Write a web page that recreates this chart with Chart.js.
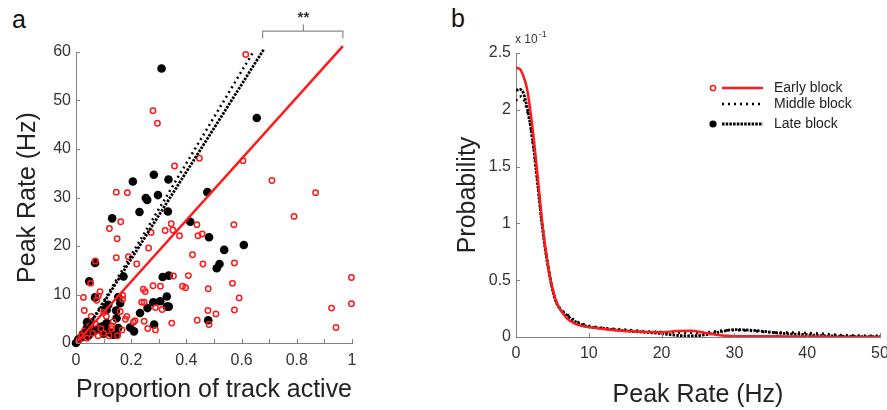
<!DOCTYPE html>
<html>
<head>
<meta charset="utf-8">
<script src="https://cdn.jsdelivr.net/npm/chart.js@4/dist/chart.umd.min.js"></script>
<style>
  html, body { margin: 0; padding: 0; background: #fff; overflow: hidden; }
  body { width: 887px; height: 410px; position: relative; font-family: "Liberation Sans", Arial, sans-serif; }
  .panel { position: absolute; top: 0; height: 410px; }
  #leftBox { left: 0; width: 380px; }
  #rightBox { left: 440px; width: 470px; }
  .letter { position: absolute; font-size: 25px; line-height: 25px; color: #111; }
</style>
</head>
<body>
<div class="letter" style="left:12px; top:7px;">a</div>
<div class="letter" style="left:451px; top:6px;">b</div>
<div class="panel" id="leftBox"><canvas id="scatterChart"></canvas></div>
<div class="panel" id="rightBox"><canvas id="densityChart"></canvas></div>

<script>
// -----------------------------
// DATA: panel a (scatter)
// -----------------------------
const earlyProportion = [
  0.615, 0.279, 0.295, 0.447, 0.605, 0.357, 0.71, 0.146, 0.186, 0.868,
  0.79, 0.162, 0.121, 0.272, 0.323, 0.345, 0.351, 0.375, 0.438, 0.442,
  0.457, 0.572, 0.149, 0.263, 0.146, 0.19, 0.07, 0.22, 0.422, 0.46,
  0.574, 0.353, 0.407, 0.998, 0.567, 0.053, 0.279, 0.306, 0.386, 0.397,
  0.479, 0.244, 0.251, 0.087, 0.081, 0.027, 0.591, 0.169, 0.169, 0.998,
  0.926, 0.03, 0.238, 0.247, 0.288, 0.312, 0.478, 0.574, 0.507, 0.184,
  0.179, 0.247, 0.347, 0.439, 0.482, 0.26, 0.288, 0.942, 0.208, 0.135,
  0.167, 0.01, 0.02, 0.03, 0.04, 0.05, 0.06, 0.07, 0.08, 0.09,
  0.1, 0.11, 0.12, 0.13, 0.075, 0.1, 0.055, 0.15, 0.16, 0.129, 0.214
];
const earlyPeak = [
  59.5, 47.9, 45.3, 38.1, 37.6, 36.5, 33.5, 31.1, 31, 31,
  26.1, 25, 23.6, 22.8, 23.2, 24.6, 23.3, 22.1, 24.4, 22.1,
  22.5, 24.4, 21.5, 19.6, 17.6, 17.8, 16.9, 16.3, 18.2, 16.3,
  16.5, 13.8, 13.9, 13.5, 12.3, 12.3, 11.8, 11.7, 11.7, 11.4,
  11.2, 11.1, 10.6, 10.6, 9.7, 9.4, 9.3, 9.8, 9, 8.1,
  7.2, 6.7, 8.4, 8.4, 7.3, 6.9, 6.7, 6.8, 6, 5.5,
  4.9, 4.5, 4.1, 4.7, 3.8, 3, 2.7, 3.2, 4.3, 4.4,
  2.7, 0.5, 1.5, 2.5, 1, 3.5, 2, 4, 1.5, 3,
  2, 5.5, 1.5, 3.5, 8.8, 6.3, 5.5, 1.5, 6.5, 2.9, 4.6
];

const lateProportion = [
  0, 0.008, 0.02, 0.033, 0.039, 0.05, 0.063, 0.075, 0.087, 0.099,
  0.111, 0.111, 0.135, 0.147, 0.153, 0.147, 0.025, 0.045, 0.055, 0.1,
  0.125, 0.04, 0.145, 0.111, 0.117, 0.107, 0.16, 0.153, 0.069, 0.172,
  0.048, 0.069, 0.196, 0.21, 0.232, 0.259, 0.283, 0.28, 0.305, 0.329,
  0.336, 0.329, 0.314, 0.336, 0.479, 0.131, 0.206, 0.23, 0.253, 0.258,
  0.282, 0.297, 0.335, 0.333, 0.31, 0.414, 0.476, 0.482, 0.51, 0.52,
  0.537, 0.608, 0.655
];
const latePeak = [
  0, 0.7, 1.2, 2, 3.1, 3.8, 2.4, 2.7, 3.3, 3.5,
  2.7, 4.1, 1.7, 1.7, 3.1, 5.1, 1.8, 1.5, 2.9, 1.9,
  2.1, 4.3, 6.7, 6.8, 7.9, 7, 8.2, 9.5, 9.4, 13.7,
  12.7, 16.5, 3.2, 2.4, 6.2, 7.2, 3.8, 8.4, 8.6, 7.5,
  7.5, 9.6, 13.6, 13.9, 4.7, 25.7, 33.3, 27, 29.9, 29.5,
  34.7, 30.5, 33.7, 27.1, 56.6, 25, 31.1, 21.8, 15.4, 16.3,
  19.2, 20.2, 46.4
];

// regression lines (end points)
const earlyFitX = [0, 0.967];
const earlyFitY = [0, 61.2];
const middleFitX = [0.03, 0.645];
const middleFitY = [2, 60.3];
const lateFitX = [0.03, 0.68];
const lateFitY = [2, 60.5];

// significance bracket
const bracketX = [0.676, 0.676, 0.967, 0.967];
const bracketY = [62.8, 64.3, 64.3, 62.8];
const bracketTickX = [0.824, 0.824];
const bracketTickY = [64.3, 65.7];
const starLabel = '**';

// -----------------------------
// DATA: panel b (density)
// -----------------------------
const rateGrid = [0, 0.5, 1, 1.5, 2, 2.5, 3, 3.5, 4, 4.5, 5, 5.5, 6, 7, 8, 9, 10,
  12, 14, 16, 18, 20, 22, 24, 26, 28, 30, 32, 34, 36, 38, 40, 42, 44, 46, 48, 50];
const earlyDensity = [2.37, 2.36, 2.3, 2.19, 1.98, 1.71, 1.4, 1.07, 0.8, 0.59, 0.43, 0.32, 0.25, 0.165, 0.12, 0.098, 0.087,
  0.07, 0.058, 0.05, 0.043, 0.042, 0.052, 0.055, 0.035, 0.015, 0.007, 0.006, 0.006, 0.006, 0.005, 0.005, 0.004, 0.001, 0, 0, 0];
const middleDensity = [2.08, 2.12, 2.1, 2.0, 1.85, 1.62, 1.35, 1.05, 0.8, 0.6, 0.43, 0.32, 0.26, 0.2, 0.15, 0.12, 0.1,
  0.08, 0.07, 0.06, 0.05, 0.045, 0.04, 0.035, 0.04, 0.055, 0.06, 0.055, 0.045, 0.04, 0.04, 0.035, 0.03, 0.02, 0.015, 0.012, 0.01];
const lateDensity = [2.17, 2.18, 2.15, 2.03, 1.86, 1.62, 1.33, 1.03, 0.78, 0.58, 0.42, 0.31, 0.25, 0.19, 0.14, 0.11, 0.09,
  0.075, 0.06, 0.05, 0.04, 0.03, 0.015, 0.01, 0.02, 0.045, 0.065, 0.06, 0.05, 0.035, 0.025, 0.02, 0.012, 0.008, 0.005, 0.003, 0.002];
const legendLabels = ['Early block', 'Middle block', 'Late block'];

// -----------------------------
// STYLE
// -----------------------------
const FONT = '"Liberation Sans", Arial, sans-serif';
const AXIS_COLOR = '#808080';
const TICK_COLOR = '#333';
const RED = '#ff1a1a';

const toPoints = (xs, ys) => xs.map((x, i) => ({ x: x, y: ys[i] }));

// inward tick marks (matlab style)
const innerTicks = {
    id: 'innerTicks',
    afterDraw(chart) {
        const ctx = chart.ctx;
        const area = chart.chartArea;
        ctx.save();
        ctx.strokeStyle = AXIS_COLOR;
        ctx.lineWidth = 1;
        const xs = chart.scales.x;
        xs.ticks.forEach(t => {
            const px = Math.round(xs.getPixelForValue(t.value)) + 0.5;
            ctx.beginPath();
            ctx.moveTo(px, area.bottom);
            ctx.lineTo(px, area.bottom - 4);
            ctx.stroke();
        });
        const ys = chart.scales.y;
        ys.ticks.forEach(t => {
            const py = Math.round(ys.getPixelForValue(t.value)) + 0.5;
            ctx.beginPath();
            ctx.moveTo(area.left, py);
            ctx.lineTo(area.left + 4, py);
            ctx.stroke();
        });
        ctx.restore();
    }
};

function axisTitle(text, pad) {
    return {
        display: true,
        text: text,
        color: '#222',
        font: { family: FONT, size: 25 },
        padding: pad
    };
}

// -----------------------------
// PANEL A
// -----------------------------
const starPlugin = {
    id: 'starPlugin',
    afterDraw(chart) {
        const ctx = chart.ctx;
        const x = chart.scales.x.getPixelForValue(bracketTickX[0]);
        const y = chart.scales.y.getPixelForValue(67.4);
        ctx.save();
        ctx.fillStyle = '#333';
        ctx.font = 'bold 15px ' + FONT;
        ctx.textAlign = 'center';
        ctx.textBaseline = 'middle';
        ctx.fillText(starLabel, x, y + 2);
        ctx.restore();
    }
};

new Chart(document.getElementById('scatterChart'), {
    type: 'scatter',
    data: {
        datasets: [
            {
                label: 'bracket',
                data: toPoints(bracketX, bracketY),
                showLine: true, borderColor: '#8a8a8a', borderWidth: 1.2,
                pointRadius: 0, clip: false, order: 0
            },
            {
                label: 'bracket tick',
                data: toPoints(bracketTickX, bracketTickY),
                showLine: true, borderColor: '#8a8a8a', borderWidth: 1.2,
                pointRadius: 0, clip: false, order: 0
            },
            {
                label: 'Early fit',
                data: toPoints(earlyFitX, earlyFitY),
                showLine: true, borderColor: RED, borderWidth: 2.5,
                pointRadius: 0, clip: false, order: 1
            },
            {
                label: 'Middle fit',
                data: toPoints(middleFitX, middleFitY),
                showLine: true, borderColor: '#000', borderWidth: 2.5,
                borderDash: [2, 3.5], pointRadius: 0, clip: false, order: 2
            },
            {
                label: 'Late fit',
                data: toPoints(lateFitX, lateFitY),
                showLine: true, borderColor: '#000', borderWidth: 2.8,
                borderDash: [2.5, 1.2], pointRadius: 0, clip: false, order: 3
            },
            {
                label: 'Early block',
                data: toPoints(earlyProportion, earlyPeak),
                pointRadius: 2.7, borderWidth: 1.5,
                borderColor: RED, backgroundColor: 'rgba(0,0,0,0)',
                clip: false, order: 4
            },
            {
                label: 'Late block',
                data: toPoints(lateProportion, latePeak),
                pointRadius: 4.3, borderWidth: 0,
                backgroundColor: '#000', borderColor: '#000',
                clip: false, order: 5
            }
        ]
    },
    options: {
        responsive: true,
        maintainAspectRatio: false,
        animation: false,
        events: [],
        layout: { padding: { top: 52, right: 28, left: 0, bottom: 0 } },
        plugins: { legend: { display: false }, tooltip: { enabled: false } },
        scales: {
            x: {
                type: 'linear', min: 0, max: 1,
                grid: { display: true, drawOnChartArea: false, drawTicks: false },
                border: { color: AXIS_COLOR, width: 1 },
                ticks: {
                    stepSize: 0.1, padding: 8, color: TICK_COLOR, maxRotation: 0, autoSkip: false,
                    font: { family: FONT, size: 16 },
                    callback: v => (Math.round(v * 10) % 2 === 0 ? String(Math.round(v * 10) / 10) : '')
                },
                title: axisTitle('Proportion of track active', { top: 0, bottom: 5 }),
                afterFit: s => { s.height = 67; }
            },
            y: {
                type: 'linear', min: 0, max: 60,
                grid: { display: true, drawOnChartArea: false, drawTicks: false },
                border: { color: AXIS_COLOR, width: 1 },
                ticks: {
                    stepSize: 10, padding: 5, color: TICK_COLOR,
                    font: { family: FONT, size: 16 }
                },
                title: axisTitle('Peak Rate (Hz)', { top: 13, bottom: 0 }),
                afterFit: s => { s.width = 76; }
            }
        }
    },
    plugins: [innerTicks, starPlugin]
});

// -----------------------------
// PANEL B
// -----------------------------
const legendPlugin = {
    id: 'blockLegend',
    afterDraw(chart) {
        const ctx = chart.ctx;
        const x0 = 273, x1 = 282, x2 = 323, tx = 334;
        const rows = [88, 104, 124];
        ctx.save();
        ctx.font = '14px ' + FONT;
        ctx.fillStyle = '#222';
        ctx.textBaseline = 'middle';
        legendLabels.forEach((lab, i) => {
            const ds = chart.data.datasets[i];
            const y = rows[i];
            ctx.beginPath();
            ctx.setLineDash(ds.borderDash || []);
            ctx.strokeStyle = ds.borderColor;
            ctx.lineWidth = ds.borderWidth;
            ctx.moveTo(x1, y);
            ctx.lineTo(x2, y);
            ctx.stroke();
            ctx.setLineDash([]);
            if (i === 0) {
                ctx.beginPath();
                ctx.arc(x0, y, 2.6, 0, Math.PI * 2);
                ctx.lineWidth = 1.5;
                ctx.strokeStyle = RED;
                ctx.stroke();
            } else if (i === 2) {
                ctx.beginPath();
                ctx.arc(x0, y, 3.6, 0, Math.PI * 2);
                ctx.fillStyle = '#000';
                ctx.fill();
                ctx.fillStyle = '#222';
            }
            ctx.fillText(lab, tx, y);
        });
        // exponent label
        const left = chart.chartArea.left;
        ctx.textAlign = 'left';
        ctx.font = '12px ' + FONT;
        ctx.fillStyle = '#333';
        ctx.fillText('x 10', left - 1, 40);
        const w = ctx.measureText('x 10').width;
        ctx.font = '9px ' + FONT;
        ctx.fillText('-1', left - 1 + w + 1, 35);
        ctx.restore();
    }
};

new Chart(document.getElementById('densityChart'), {
    type: 'line',
    data: {
        datasets: [
            {
                label: legendLabels[0],
                data: toPoints(rateGrid, earlyDensity),
                borderColor: RED, borderWidth: 2.5,
                pointRadius: 0, cubicInterpolationMode: 'monotone', order: 0
            },
            {
                label: legendLabels[1],
                data: toPoints(rateGrid, middleDensity),
                borderColor: '#000', borderWidth: 2.5, borderDash: [2, 4],
                pointRadius: 0, cubicInterpolationMode: 'monotone', order: 2
            },
            {
                label: legendLabels[2],
                data: toPoints(rateGrid, lateDensity),
                borderColor: '#000', borderWidth: 2.8, borderDash: [2.5, 1.2],
                pointRadius: 0, cubicInterpolationMode: 'monotone', order: 1
            }
        ]
    },
    options: {
        responsive: true,
        maintainAspectRatio: false,
        animation: false,
        events: [],
        layout: { padding: { top: 53, right: 30, left: 0, bottom: 0 } },
        plugins: { legend: { display: false }, tooltip: { enabled: false } },
        scales: {
            x: {
                type: 'linear', min: 0, max: 50,
                grid: { display: true, drawOnChartArea: false, drawTicks: false },
                border: { color: AXIS_COLOR, width: 1 },
                ticks: {
                    stepSize: 10, padding: 7, color: TICK_COLOR, maxRotation: 0,
                    font: { family: FONT, size: 16 }
                },
                title: axisTitle('Peak Rate (Hz)', { top: 0, bottom: 0 }),
                afterFit: s => { s.height = 73; }
            },
            y: {
                type: 'linear', min: 0, max: 2.5,
                grid: { display: true, drawOnChartArea: false, drawTicks: false },
                border: { color: AXIS_COLOR, width: 1 },
                ticks: {
                    stepSize: 0.5, padding: 5, color: TICK_COLOR,
                    font: { family: FONT, size: 16 },
                    callback: v => String(Math.round(v * 10) / 10)
                },
                title: axisTitle('Probability', { top: 13, bottom: 0 }),
                afterFit: s => { s.width = 76; }
            }
        }
    },
    plugins: [innerTicks, legendPlugin]
});
</script>
</body>
</html>
